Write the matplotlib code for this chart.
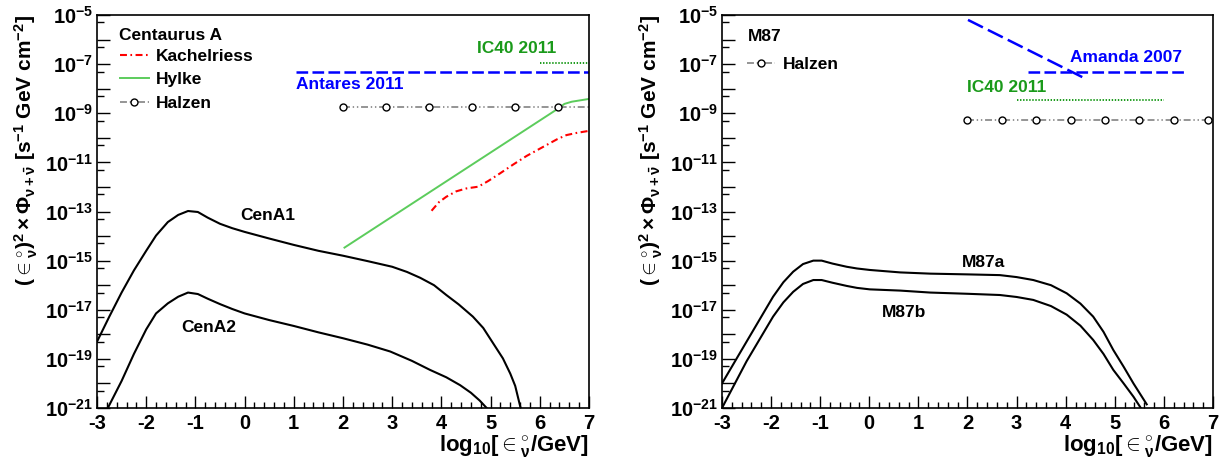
import numpy as np
import matplotlib
matplotlib.use('Agg')
import matplotlib.pyplot as plt
from matplotlib.ticker import FixedLocator, FuncFormatter

# ---- fonts / style (ROOT-like: bold Helvetica, inward ticks) ----
plt.rcParams['font.family'] = 'Liberation Sans'
plt.rcParams['font.weight'] = 'bold'
plt.rcParams['axes.labelweight'] = 'bold'
plt.rcParams['mathtext.fontset'] = 'custom'
plt.rcParams['mathtext.rm'] = 'Liberation Sans:bold'
plt.rcParams['mathtext.it'] = 'Liberation Sans:bold'
plt.rcParams['mathtext.bf'] = 'Liberation Sans:bold'
plt.rcParams['mathtext.sf'] = 'Liberation Sans:bold'
plt.rcParams['axes.unicode_minus'] = False
plt.rcParams['lines.scale_dashes'] = False

# ---- data: log10(E) and log10(E^2 * flux) ----
# Centaurus A
cena1_x = [-3, -2.75, -2.5, -2.25, -2, -1.8, -1.56, -1.35, -1.15, -0.95, -0.75, -0.5, -0.25, 0, 0.5, 1, 1.5,
           2, 2.5, 3, 3.3, 3.57, 3.85, 4.1, 4.35, 4.64, 4.85, 5.05, 5.25, 5.4, 5.5, 5.61]
cena1_y = [-18.3, -17.28, -16.3, -15.4, -14.6, -13.98, -13.43, -13.14, -12.98, -13.02, -13.25, -13.5, -13.68,
           -13.83, -14.1, -14.36, -14.6, -14.8, -15.02, -15.25, -15.46, -15.7, -16.0, -16.4, -16.78, -17.28,
           -17.74, -18.36, -18.98, -19.6, -20.1, -21]
cena2_x = [-2.78, -2.5, -2.25, -2, -1.8, -1.56, -1.35, -1.15, -0.95, -0.75, -0.5, -0.25, 0, 0.5, 1, 1.5, 2,
           2.5, 2.96, 3.4, 3.77, 4.1, 4.38, 4.6, 4.78, 4.92]
cena2_y = [-21, -19.9, -18.8, -17.8, -17.15, -16.74, -16.47, -16.3, -16.36, -16.55, -16.77, -16.97, -17.15,
           -17.42, -17.66, -17.92, -18.16, -18.42, -18.7, -19.08, -19.45, -19.75, -20.07, -20.38, -20.7, -21]
hylke_x = [2.03, 6.38, 6.5, 6.65, 6.99]
hylke_y = [-14.47, -8.8, -8.62, -8.53, -8.42]
kach_x = [3.8, 3.95, 4.1, 4.3, 4.51, 4.75, 4.95, 5.19, 5.45, 5.73, 6.14, 6.35, 6.54, 6.75, 6.99]
kach_y = [-12.97, -12.62, -12.4, -12.18, -12.06, -11.99, -11.76, -11.45, -11.1, -10.74, -10.29, -10.06,
          -9.89, -9.8, -9.72]
halzen_cen_x = [2.0, 2.875, 3.75, 4.625, 5.5, 6.375, 7.0]
halzen_cen_y = [-8.73] * 7
antares_x = [1.04, 7.0]
antares_y = [-7.31, -7.31]
ic40_cen_x = [6.0, 7.0]
ic40_cen_y = [-6.97, -6.97]

# M87
m87a_x = [-3, -2.5, -1.96, -1.75, -1.55, -1.35, -1.14, -0.97, -0.75, -0.46, -0.25, 0.01, 0.63, 1.24, 2.0,
          2.66, 3.0, 3.34, 3.7, 4.02, 4.3, 4.56, 4.77, 4.97, 5.18, 5.38, 5.65]
m87a_y = [-20.0, -18.3, -16.47, -15.88, -15.45, -15.14, -15.0, -15.0, -15.12, -15.25, -15.32, -15.38,
          -15.48, -15.53, -15.56, -15.59, -15.67, -15.79, -16.0, -16.33, -16.75, -17.28, -17.9, -18.64,
          -19.32, -20.0, -20.85]
m87b_x = [-3, -2.5, -1.96, -1.75, -1.55, -1.35, -1.14, -0.97, -0.75, -0.46, -0.25, 0.01, 0.63, 1.24, 2.0,
          2.66, 3.0, 3.34, 3.7, 4.02, 4.3, 4.56, 4.77, 4.97, 5.18, 5.38, 5.53]
m87b_y = [-21, -19.1, -17.28, -16.7, -16.27, -15.95, -15.79, -15.79, -15.9, -16.03, -16.11, -16.17,
          -16.22, -16.3, -16.35, -16.4, -16.48, -16.6, -16.85, -17.2, -17.65, -18.23, -18.8, -19.45, -20.0,
          -20.54, -21]
halzen_m87_x = [2.0, 2.7, 3.4, 4.1, 4.8, 5.5, 6.2, 6.9, 7.0]
halzen_m87_y = [-9.28] * 9
amanda_slope_x = [2.01, 4.39]
amanda_slope_y = [-5.2, -7.58]
amanda_flat_x = [3.24, 6.4]
amanda_flat_y = [-7.31, -7.31]
ic40_m87_x = [3.01, 6.0]
ic40_m87_y = [-8.46, -8.46]

BLUE = '#0000ff'
GREEN_TXT = '#1a9a1a'
HYLKE = '#5ccc5c'
GREY = '#8c8c8c'

FS_TICK = 14.5
FS_TXT = 12.5

YLABEL = r'$(\in^{\circ}_{\nu})^{2} \times \Phi_{\nu+\bar{\nu}}$ [s$^{-1}$ GeV cm$^{-2}$]'
XLABEL = r'log$_{10}$[$\in^{\circ}_{\nu}$/GeV]'


def lin(v):
    return 10.0 ** np.array(v)


def ylab(v, pos):
    e = int(round(np.log10(v)))
    return r'$10^{%d}$' % e if e % 2 else ''


def style_axes(ax):
    ax.set_yscale('log')
    ax.set_xlim(-3, 7)
    ax.set_ylim(1e-21, 1e-5)
    ax.yaxis.set_major_locator(FixedLocator([10.0 ** e for e in range(-21, -4)]))
    ax.yaxis.set_minor_locator(FixedLocator([5 * 10.0 ** e for e in range(-21, -5)]))
    ax.yaxis.set_major_formatter(FuncFormatter(ylab))
    ax.set_xticks(range(-3, 8))
    ax.set_xticks(np.arange(-3, 7.01, 0.2), minor=True)
    ax.tick_params(which='both', direction='in', top=False, right=False)
    ax.tick_params(axis='x', which='major', length=8.6, width=1.0, labelsize=FS_TICK, pad=4)
    ax.tick_params(axis='x', which='minor', length=4.3, width=1.0)
    ax.tick_params(axis='y', which='major', length=9.4, width=1.0, labelsize=FS_TICK, pad=3)
    ax.tick_params(axis='y', which='minor', length=5.0, width=1.0)
    for s in ax.spines.values():
        s.set_linewidth(1.2)
    ax.set_ylabel(YLABEL, fontsize=15, loc='top')
    ax.yaxis.set_label_coords(-0.116, 1.0)
    ax.set_xlabel(XLABEL, fontsize=16, loc='right')
    ax.xaxis.set_label_coords(1.0, -0.064)


fig = plt.figure(figsize=(12.27, 4.61), dpi=100)
ax1 = fig.add_axes([97 / 1227, 53 / 461, 492 / 1227, 393 / 461])
ax2 = fig.add_axes([722 / 1227, 53 / 461, 491 / 1227, 393 / 461])

# ---- left: Centaurus A ----
ax1.plot(cena1_x, lin(cena1_y), color='black', lw=1.5)
ax1.plot(cena2_x, lin(cena2_y), color='black', lw=1.5)
l_k, = ax1.plot(kach_x, lin(kach_y), color='red', lw=1.5, dashes=(5, 2.5, 1.2, 2.5), label='Kachelriess')
l_h, = ax1.plot(hylke_x, lin(hylke_y), color=HYLKE, lw=1.4, label='Hylke')
l_z, = ax1.plot(halzen_cen_x, lin(halzen_cen_y), color=GREY, lw=1.3, dashes=(5, 2, 1, 2, 1, 2),
                marker='o', mfc='white', mec='black', mew=1.0, ms=5, markevery=list(range(6)),
                label='Halzen')
ax1.plot(antares_x, lin(antares_y), color=BLUE, lw=1.8, dashes=(8.4, 3.1))
ax1.plot(ic40_cen_x, lin(ic40_cen_y), color=GREEN_TXT, lw=1.4, dashes=(1, 1.2))

ax1.text(1.04, 10 ** -7.81, 'Antares 2011', color=BLUE, fontsize=FS_TXT, va='center')
ax1.text(5.52, 10 ** -6.38, 'IC40 2011', color=GREEN_TXT, fontsize=FS_TXT, va='center', ha='center')
ax1.text(-0.09, 10 ** -13.18, 'CenA1', fontsize=FS_TXT, va='center')
ax1.text(-1.29, 10 ** -17.74, 'CenA2', fontsize=FS_TXT, va='center')
ax1.text(0.045, 0.947, 'Centaurus A', transform=ax1.transAxes, fontsize=FS_TXT, va='center')
ax1.legend(handles=[l_k, l_h, l_z], loc='upper left', bbox_to_anchor=(0.047, 0.913), frameon=False,
           fontsize=FS_TXT, handlelength=1.65, handletextpad=0.4, labelspacing=0.46,
           borderpad=0, borderaxespad=0, numpoints=1)
style_axes(ax1)

# ---- right: M87 ----
ax2.plot(m87a_x, lin(m87a_y), color='black', lw=1.5)
ax2.plot(m87b_x, lin(m87b_y), color='black', lw=1.5)
l_z2, = ax2.plot(halzen_m87_x, lin(halzen_m87_y), color=GREY, lw=1.3, dashes=(5, 2, 1, 2, 1, 2),
                 marker='o', mfc='white', mec='black', mew=1.0, ms=5, markevery=list(range(8)),
                 label='Halzen')
ax2.plot(amanda_slope_x, lin(amanda_slope_y), color=BLUE, lw=1.8, dashes=(12, 4))
ax2.plot(amanda_flat_x, lin(amanda_flat_y), color=BLUE, lw=1.8, dashes=(8.4, 3.1))
ax2.plot(ic40_m87_x, lin(ic40_m87_y), color=GREEN_TXT, lw=1.4, dashes=(1, 1.2))

ax2.text(4.09, 10 ** -6.71, 'Amanda 2007', color=BLUE, fontsize=FS_TXT, va='center')
ax2.text(1.99, 10 ** -7.97, 'IC40 2011', color=GREEN_TXT, fontsize=FS_TXT, va='center')
ax2.text(1.89, 10 ** -15.06, 'M87a', fontsize=FS_TXT, va='center')
ax2.text(0.26, 10 ** -17.13, 'M87b', fontsize=FS_TXT, va='center')
ax2.text(0.053, 0.945, 'M87', transform=ax2.transAxes, fontsize=FS_TXT, va='center')
ax2.legend(handles=[l_z2], loc='upper left', bbox_to_anchor=(0.05, 0.893), frameon=False,
           fontsize=FS_TXT, handlelength=1.65, handletextpad=0.45,
           borderpad=0, borderaxespad=0, numpoints=1)
style_axes(ax2)

fig.savefig('out.png', dpi=100)
